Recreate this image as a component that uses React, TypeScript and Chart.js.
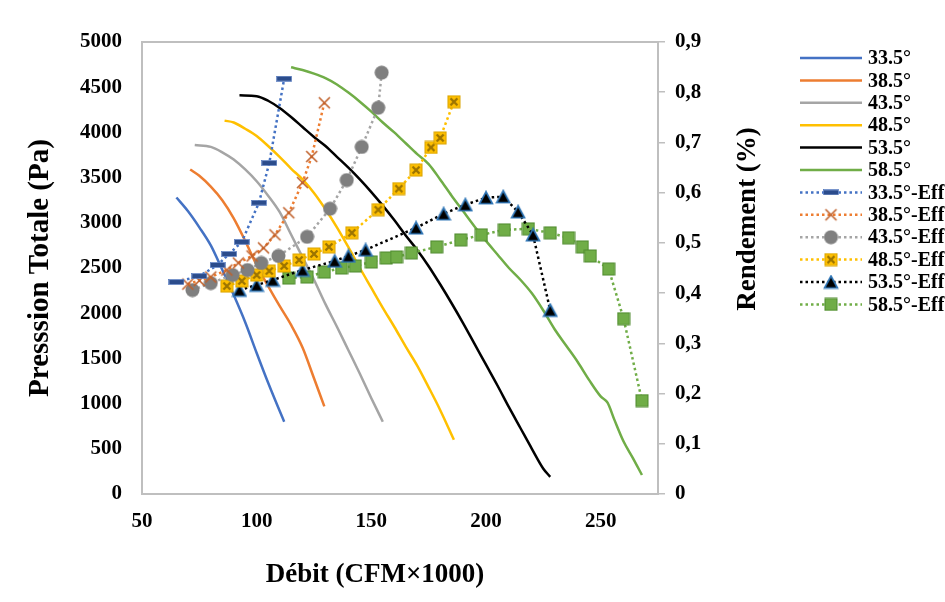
import React, { useEffect, useRef } from 'react';
import { Chart, registerables } from 'chart.js';
Chart.register(...registerables);

// ---------- Data ----------
// Pressure curves: Débit (CFM×1000) vs Pression Totale (Pa)
const p335X = [65, 70, 75, 80, 85, 90, 95, 100, 105, 110, 112];
const p335Y = [3280, 3130, 2950, 2750, 2480, 2200, 1900, 1560, 1230, 920, 800];

const p385X = [71, 75, 80, 85, 90, 95, 100, 105, 110, 115, 120, 125, 129.5];
const p385Y = [3590, 3520, 3400, 3250, 3050, 2800, 2530, 2300, 2080, 1870, 1620, 1280, 970];

const p435X = [73, 80, 85, 90, 95, 100, 105, 110, 115, 120, 125, 130, 135, 140, 145, 150, 155];
const p435Y = [3860, 3840, 3780, 3700, 3590, 3460, 3300, 3120, 2870, 2620, 2370, 2100, 1850, 1590, 1330, 1060, 800];

const p485X = [86, 90, 95, 100, 105, 110, 115, 120, 125, 130, 135, 140, 145, 150, 155, 160, 165, 170, 175, 180, 186];
const p485Y = [4130, 4110, 4040, 3960, 3850, 3730, 3600, 3480, 3330, 3150, 2950, 2730, 2500, 2280, 2060, 1850, 1630, 1420, 1180, 930, 600];

const p535X = [92.5, 100, 105, 110, 115, 120, 125, 130, 135, 140, 145, 150, 155, 160, 165, 170, 175, 180, 185, 190, 195, 200, 205, 210, 215, 220, 225, 228];
const p535Y = [4410, 4400, 4350, 4270, 4170, 4060, 3950, 3850, 3730, 3610, 3480, 3340, 3190, 3030, 2860, 2700, 2520, 2320, 2110, 1890, 1660, 1430, 1200, 960, 730, 500, 280, 190];

const p585X = [115, 120, 125, 130, 135, 140, 145, 150, 155, 160, 165, 170, 175, 180, 185, 190, 195, 200, 205, 210, 215, 220, 225, 230, 235, 240, 245, 250, 253, 256, 260, 264, 268];
const p585Y = [4720, 4690, 4650, 4600, 4530, 4440, 4340, 4230, 4110, 4000, 3880, 3760, 3650, 3480, 3300, 3130, 2960, 2800, 2650, 2500, 2370, 2220, 2030, 1820, 1640, 1460, 1260, 1080, 1010, 820, 580, 400, 210];

// Efficiency curves: Débit vs Rendement
const e335X = [65, 75, 83, 88, 93.5, 101, 105.5, 112];
const e335Y = [0.422, 0.434, 0.456, 0.478, 0.502, 0.58, 0.659, 0.827];

const e385X = [70, 75, 80, 87, 92, 98, 103, 108, 114, 120, 124, 129.5];
const e385Y = [0.418, 0.425, 0.432, 0.446, 0.46, 0.474, 0.49, 0.516, 0.56, 0.62, 0.672, 0.779];

const e435X = [72, 80, 89.5, 96, 102, 109.5, 122, 132, 139.3, 145.8, 153, 154.5];
const e435Y = [0.406, 0.42, 0.436, 0.446, 0.46, 0.474, 0.512, 0.568, 0.625, 0.691, 0.769, 0.839];

const e485X = [87, 93.5, 100, 105.5, 112, 118.5, 125, 131.5, 141.5, 153, 162, 169.5, 176, 180, 186];
const e485Y = [0.414, 0.424, 0.436, 0.444, 0.454, 0.466, 0.478, 0.492, 0.52, 0.566, 0.608, 0.645, 0.69, 0.709, 0.781];

const e535X = [92.5, 100, 107, 120, 134, 140, 147.5, 169.5, 181.5, 191, 200, 207.5, 214, 220.5, 228];
const e535Y = [0.406, 0.416, 0.426, 0.446, 0.464, 0.474, 0.486, 0.53, 0.558, 0.576, 0.59, 0.592, 0.562, 0.516, 0.366];

const e585X = [114, 122, 129.5, 137, 143, 150, 156.5, 161, 167.5, 178.5, 189, 198, 208, 218.5, 228, 236, 242, 245.5, 253.5, 260, 268];
const e585Y = [0.43, 0.432, 0.442, 0.45, 0.454, 0.462, 0.47, 0.472, 0.48, 0.492, 0.506, 0.516, 0.526, 0.528, 0.52, 0.51, 0.492, 0.474, 0.448, 0.349, 0.186];

const pressureLabels = ['33.5°', '38.5°', '43.5°', '48.5°', '53.5°', '58.5°'];
const effLabels = ['33.5°-Eff', '38.5°-Eff', '43.5°-Eff', '48.5°-Eff', '53.5°-Eff', '58.5°-Eff'];
const seriesColors = ['#4472C4', '#ED7D31', '#A5A5A5', '#FFC000', '#000000', '#70AD47'];

const xTitle = 'Débit (CFM×1000)';
const yTitle = 'Presssion Totale (Pa)';
const y1Title = 'Rendement (%)';

const leftTicks = { min: 0, max: 5000, step: 500 };
const rightTicks = { min: 0, max: 0.9, step: 0.1 };
const xTicks = { min: 50, max: 275, step: 50 };

const FONT = '"Liberation Serif", "Times New Roman", serif';

const toPts = (xs: number[], ys: number[]) => xs.map((x, i) => ({ x, y: ys[i] }));

function mk(w: number, h: number, draw: (g: CanvasRenderingContext2D) => void) {
  const c = document.createElement('canvas');
  c.width = w;
  c.height = h;
  const g = c.getContext('2d') as CanvasRenderingContext2D;
  draw(g);
  return c;
}

function makeMarkers() {
  const dash = mk(16, 6, (g) => {
    g.fillStyle = '#2B4C8C';
    g.fillRect(1, 1, 14, 4);
    g.strokeStyle = '#5A7DC0';
    g.lineWidth = 0.8;
    g.strokeRect(0.5, 0.5, 15, 5);
  });
  const cross = mk(15, 15, (g) => {
    g.strokeStyle = '#C0602A';
    g.lineWidth = 1.6;
    g.beginPath();
    g.moveTo(2, 2);
    g.lineTo(13, 13);
    g.moveTo(13, 2);
    g.lineTo(2, 13);
    g.stroke();
  });
  const circle = mk(15, 15, (g) => {
    g.fillStyle = '#7F7F7F';
    g.beginPath();
    g.arc(7.5, 7.5, 7, 0, Math.PI * 2);
    g.fill();
  });
  const ysq = mk(14, 14, (g) => {
    g.fillStyle = '#FFC000';
    g.fillRect(1, 1, 12, 12);
    g.strokeStyle = '#D9A300';
    g.lineWidth = 1;
    g.strokeRect(1, 1, 12, 12);
    g.strokeStyle = '#9C7400';
    g.lineWidth = 2.4;
    g.beginPath();
    g.moveTo(3.5, 3.5);
    g.lineTo(10.5, 10.5);
    g.moveTo(10.5, 3.5);
    g.lineTo(3.5, 10.5);
    g.stroke();
  });
  const tri = mk(16, 15, (g) => {
    g.fillStyle = '#000000';
    g.strokeStyle = '#2E75B6';
    g.lineWidth = 1.6;
    g.beginPath();
    g.moveTo(8, 1.5);
    g.lineTo(14.5, 13.5);
    g.lineTo(1.5, 13.5);
    g.closePath();
    g.fill();
    g.stroke();
  });
  const gsq = mk(14, 14, (g) => {
    g.fillStyle = '#70AD47';
    g.fillRect(1, 1, 12, 12);
    g.strokeStyle = '#4E8A2E';
    g.lineWidth = 1;
    g.strokeRect(1, 1, 12, 12);
  });
  return [dash, cross, circle, ysq, tri, gsq];
}

const framePlugin = {
  id: 'frame',
  beforeDatasetsDraw(chart: any) {
    const { ctx, chartArea: a } = chart;
    ctx.save();
    ctx.strokeStyle = '#BFBFBF';
    ctx.lineWidth = 2;
    ctx.strokeRect(a.left, a.top, a.right - a.left, a.bottom - a.top);
    ctx.restore();
  },
};

function drawText(ctx: CanvasRenderingContext2D, text: string, x: number, y: number, size: number, rot: number) {
  ctx.save();
  ctx.translate(x, y);
  ctx.rotate(rot);
  ctx.font = `bold ${size}px ${FONT}`;
  ctx.fillStyle = '#000';
  ctx.textAlign = 'center';
  ctx.textBaseline = 'middle';
  ctx.fillText(text, 0, 0);
  ctx.restore();
}

const extrasPlugin = {
  id: 'extras',
  afterDraw(chart: any) {
    const ctx = chart.ctx as CanvasRenderingContext2D;
    // axis titles
    drawText(ctx, yTitle, 41, 268, 29, -Math.PI / 2);
    drawText(ctx, y1Title, 748, 219, 27, -Math.PI / 2);
    drawText(ctx, xTitle, 375, 575, 27, 0);

    // legend
    ctx.save();
    const x0 = 800, x1 = 862, tx = 868, y0 = 58, dy = 22.4;
    chart.data.datasets.forEach((ds: any, i: number) => {
      const y = y0 + i * dy;
      ctx.strokeStyle = ds.borderColor;
      ctx.lineWidth = ds.borderWidth;
      ctx.setLineDash(ds.borderDash || []);
      ctx.beginPath();
      ctx.moveTo(x0, y);
      ctx.lineTo(x1, y);
      ctx.stroke();
      ctx.setLineDash([]);
      if (ds.pointStyle && typeof ds.pointStyle === 'object') {
        const m = ds.pointStyle as HTMLCanvasElement;
        ctx.drawImage(m, (x0 + x1) / 2 - m.width / 2, y - m.height / 2);
      }
      ctx.font = `bold 20px ${FONT}`;
      ctx.fillStyle = '#000';
      ctx.textAlign = 'left';
      ctx.textBaseline = 'middle';
      ctx.fillText(ds.label, tx, y + 1);
    });
    ctx.restore();
  },
};

export default function App() {
  const ref = useRef<HTMLCanvasElement | null>(null);

  useEffect(() => {
    document.body.style.margin = '0';
    const markers = makeMarkers();
    const pX = [p335X, p385X, p435X, p485X, p535X, p585X];
    const pY = [p335Y, p385Y, p435Y, p485Y, p535Y, p585Y];
    const eX = [e335X, e385X, e435X, e485X, e535X, e585X];
    const eY = [e335Y, e385Y, e435Y, e485Y, e535Y, e585Y];

    const pressureSets = pressureLabels.map((label, i) => ({
      label,
      data: toPts(pX[i], pY[i]),
      yAxisID: 'y',
      borderColor: seriesColors[i],
      backgroundColor: seriesColors[i],
      borderWidth: 2.5,
      pointRadius: 0,
      cubicInterpolationMode: 'monotone' as const,
      order: 1,
    }));
    const effSets = effLabels.map((label, i) => ({
      label,
      data: toPts(eX[i], eY[i]),
      yAxisID: 'y1',
      borderColor: seriesColors[i],
      backgroundColor: seriesColors[i],
      borderWidth: 2.5,
      borderDash: [2.5, 3],
      pointStyle: markers[i],
      pointRadius: 5,
      tension: 0,
      order: 0,
    }));

    const tickFont = { family: FONT, size: 21, weight: 'bold' as const };

    const chart = new Chart(ref.current as HTMLCanvasElement, {
      type: 'line',
      data: { datasets: [...pressureSets, ...effSets] as any },
      plugins: [framePlugin, extrasPlugin],
      options: {
        animation: false,
        responsive: false,
        events: [],
        layout: { padding: { top: 42, right: 180, bottom: 0, left: 0 } },
        plugins: { legend: { display: false }, tooltip: { enabled: false } },
        scales: {
          x: {
            type: 'linear',
            min: xTicks.min,
            max: xTicks.max,
            grid: { display: false, drawTicks: false },
            border: { display: false },
            ticks: {
              stepSize: xTicks.step,
              includeBounds: false,
              padding: 15,
              color: '#000',
              font: tickFont,
              callback: (v: any) => String(v),
            },
            afterFit: (s: any) => { s.height = 108; },
          } as any,
          y: {
            type: 'linear',
            position: 'left',
            min: leftTicks.min,
            max: leftTicks.max,
            grid: { display: false, drawTicks: false },
            border: { display: false },
            ticks: {
              stepSize: leftTicks.step,
              padding: 20,
              color: '#000',
              font: tickFont,
              callback: (v: any) => String(v),
            },
            afterFit: (s: any) => { s.width = 142; },
          } as any,
          y1: {
            type: 'linear',
            position: 'right',
            min: rightTicks.min,
            max: rightTicks.max,
            grid: { display: true, drawOnChartArea: false, drawTicks: true, tickLength: 7, color: '#BFBFBF', lineWidth: 1.5 },
            border: { display: false },
            ticks: {
              stepSize: rightTicks.step,
              padding: 10,
              color: '#000',
              font: tickFont,
              callback: (v: any) => (Math.abs(v) < 1e-9 ? '0' : Number(v).toFixed(1).replace('.', ',')),
            },
            afterFit: (s: any) => { s.width = 107; },
          } as any,
        },
      },
    });
    return () => chart.destroy();
  }, []);

  return (
    <div style={{ width: 945, height: 602, background: '#fff' }}>
      <canvas ref={ref} width={945} height={602} style={{ display: 'block' }} />
    </div>
  );
}
